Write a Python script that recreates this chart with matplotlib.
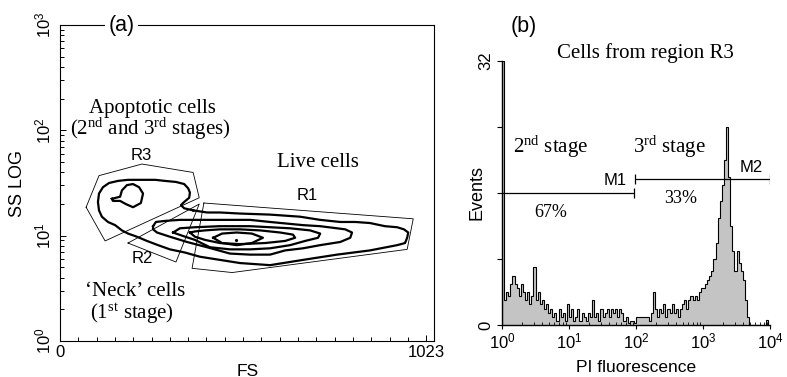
import numpy as np
import matplotlib
matplotlib.use("Agg")
import matplotlib.pyplot as plt
from matplotlib.ticker import FixedLocator, FixedFormatter, LogLocator, NullFormatter

plt.rcParams['font.family'] = ['Liberation Sans', 'DejaVu Sans']
plt.rcParams['mathtext.fontset'] = 'custom'
plt.rcParams['mathtext.rm'] = 'Liberation Serif'
plt.rcParams['mathtext.it'] = 'Liberation Serif:italic'
plt.rcParams['mathtext.bf'] = 'Liberation Serif:bold'
SERIF = ['Liberation Serif', 'DejaVu Serif']

# ---------------- Panel (a): FS vs SS LOG contour plot ----------------
# Contour outlines: FS channel (0-1023) and SS in decades (log10 SS)
outer_fs = [372, 347, 338, 347, 361, 363, 358, 347, 324, 293, 266, 224, 190, 162, 137, 120, 109, 106,
            109, 117, 134, 154, 173, 190, 215, 243, 274, 307, 349, 391, 447, 503, 587, 679, 774, 866,
            942, 964, 970, 973, 961, 942, 908, 866, 825, 783, 727, 671, 587, 503, 447, 411]
outer_ss_dec = [1.24, 1.26, 1.29, 1.32, 1.36, 1.41, 1.45, 1.49, 1.51, 1.52, 1.53, 1.53, 1.53, 1.52, 1.50,
                1.46, 1.40, 1.32, 1.24, 1.18, 1.13, 1.10, 1.05, 1.02, 0.99, 0.95, 0.91, 0.87, 0.84, 0.80,
                0.77, 0.74, 0.72, 0.77, 0.82, 0.86, 0.91, 0.93, 0.98, 1.03, 1.06, 1.08, 1.09, 1.12, 1.13,
                1.13, 1.15, 1.18, 1.20, 1.21, 1.22, 1.22]

blob_fs = [145, 168, 173, 187, 204, 221, 232, 226, 204, 184, 168, 148]
blob_ss_dec = [1.35, 1.37, 1.43, 1.48, 1.49, 1.46, 1.40, 1.31, 1.27, 1.30, 1.33, 1.33]

live2_fs = [260, 268, 293, 335, 391, 475, 531, 587, 679, 727, 774, 797, 816, 811, 783, 727, 679, 629,
            587, 531, 475, 411, 355, 307, 271, 260]
live2_ss_dec = [1.09, 1.13, 1.14, 1.15, 1.15, 1.15, 1.15, 1.13, 1.10, 1.09, 1.07, 1.06, 1.03, 0.98,
                0.94, 0.91, 0.88, 0.86, 0.82, 0.82, 0.83, 0.89, 0.94, 0.99, 1.03, 1.06]

live3_fs = [316, 335, 377, 447, 531, 587, 643, 699, 727, 721, 685, 643, 587, 531, 475, 419, 377, 341]
live3_ss_dec = [1.03, 1.07, 1.08, 1.09, 1.09, 1.08, 1.07, 1.05, 1.02, 0.98, 0.95, 0.91, 0.88, 0.87,
                0.87, 0.89, 0.96, 1.00]

live4_fs = [363, 377, 405, 447, 503, 559, 615, 651, 657, 629, 573, 503, 447, 405, 377]
live4_ss_dec = [1.03, 1.04, 1.05, 1.06, 1.06, 1.05, 1.03, 1.01, 0.98, 0.95, 0.93, 0.92, 0.93, 0.96, 0.99]

live5_fs = [428, 453, 494, 536, 567, 536, 494, 453]
live5_ss_dec = [0.98, 1.02, 1.03, 1.02, 0.98, 0.93, 0.91, 0.93]

peak_fs = [492]
peak_ss_dec = [0.96]

# Gates
r1_fs = [402, 987, 970, 481, 369]
r1_ss_dec = [1.31, 1.16, 0.87, 0.65, 0.69]
r2_fs = [190, 389, 324]
r2_ss_dec = [0.93, 1.30, 0.75]
r3_fs = [73, 109, 229, 372, 389, 126]
r3_ss_dec = [1.27, 1.57, 1.68, 1.60, 1.36, 0.95]

fs_ticks = [0, 1023]
fs_ticklabels = ['0', '1023']

# ---------------- Panel (b): PI fluorescence histogram ----------------
pi_decade1 = [32, 3, 4, 3.5, 5, 6, 5, 4.5, 3.5, 5, 4, 3, 4, 2.5, 3.5, 7,
              3, 4, 2.5, 3, 2, 2.5, 1.5, 2, 1, 1.5, 0.5, 2, 1, 1.5, 0.5, 2.5]
pi_decade2 = [1, 2, 0.5, 1, 2, 0.5, 1.5, 1, 0.5, 1.5, 1, 3, 1, 1.5, 0.5, 2,
              1, 1.5, 2, 1, 2, 1.5, 2, 1, 2, 1.5, 0.5, 1, 0.3, 0.5, 0.5, 0.3]
pi_decade3 = [1, 1, 1, 1, 1, 1, 0.5, 1.5, 4, 2, 1, 2, 1.5, 2.5, 1, 2,
              1.5, 2.5, 1.5, 2, 1, 2, 2.5, 3, 2, 3, 3.5, 3, 3.5, 3, 4, 4.5]
pi_decade4 = [4.5, 5, 5.5, 6, 6.5, 8, 10, 13, 15, 17, 20, 24, 18, 12, 9, 6.5,
              9, 7.5, 6.5, 5.5, 3, 1, 0, 0, 0, 0, 0, 0, 0, 0, 0.6, 0]
pi_counts = pi_decade1 + pi_decade2 + pi_decade3 + pi_decade4

m1_start, m1_end, m1_level = 1.0, 93.0, 16.0
m2_start, m2_end, m2_level = 95.0, 10000.0, 17.7

# ---------------- figure ----------------
W, H = 787, 377
fig = plt.figure(figsize=(W / 100, H / 100), dpi=100)
axA = fig.add_axes([60 / W, 36 / H, 374 / W, 316 / H])
axB = fig.add_axes([502 / W, 52 / H, 268 / W, 264 / H])


def closed(fs, dec):
    x = list(fs) + [fs[0]]
    y = [10 ** v for v in list(dec) + [dec[0]]]
    return x, y


CLW = 1.6
for fs, dec in [(outer_fs, outer_ss_dec), (blob_fs, blob_ss_dec), (live2_fs, live2_ss_dec),
                (live3_fs, live3_ss_dec), (live4_fs, live4_ss_dec), (live5_fs, live5_ss_dec)]:
    x, y = closed(fs, dec)
    axA.plot(x, y, color='black', lw=CLW, solid_joinstyle='round', zorder=3)
axA.plot(peak_fs, [10 ** v for v in peak_ss_dec], 'k.', ms=2.5, zorder=3)

for fs, dec in [(r1_fs, r1_ss_dec), (r2_fs, r2_ss_dec), (r3_fs, r3_ss_dec)]:
    x, y = closed(fs, dec)
    axA.plot(x, y, color='black', lw=0.6, zorder=2)

axA.set_yscale('log')
axA.set_xlim(0, 1045)
axA.set_ylim(1, 1000)
axA.xaxis.set_major_locator(FixedLocator(fs_ticks))
axA.xaxis.set_major_formatter(FixedFormatter(fs_ticklabels))
axA.xaxis.set_minor_locator(FixedLocator([1023 * k / 20 for k in range(1, 20)]))
axA.yaxis.set_major_locator(LogLocator(base=10, numticks=10))
axA.yaxis.set_minor_locator(LogLocator(base=10, subs=np.arange(2, 10), numticks=10))
axA.yaxis.set_minor_formatter(NullFormatter())
axA.tick_params(axis='both', which='both', direction='in', width=0.7, labelsize=12)
axA.tick_params(axis='both', which='major', length=4)
axA.tick_params(axis='both', which='minor', length=3)
axA.tick_params(axis='x', which='major', pad=3)
axA.tick_params(axis='y', which='major', pad=5, labelrotation=90)
for lab in axA.get_yticklabels():
    lab.set_va('center')
for s in axA.spines.values():
    s.set_linewidth(0.8)

axA.text(0.164, 1.0, '(a)', transform=axA.transAxes, ha='center', va='center', fontsize=15.5,
         bbox=dict(facecolor='white', edgecolor='none', pad=2.5), zorder=6)

ta = dict(transform=axA.transAxes, ha='center', va='baseline')
axA.text(0.246, 0.722, 'Apoptotic cells', family=SERIF, fontsize=15, **ta)
axA.text(0.241, 0.652, r'(2$^{\mathrm{nd}}$ and 3$^{\mathrm{rd}}$ stages)', family=SERIF, fontsize=15, **ta)
axA.text(0.217, 0.573, 'R3', fontsize=12, **ta)
axA.text(0.690, 0.551, 'Live cells', family=SERIF, fontsize=15, **ta)
axA.text(0.660, 0.446, 'R1', fontsize=12, **ta)
axA.text(0.219, 0.247, 'R2', fontsize=12, **ta)
axA.text(0.200, 0.141, '\u2018Neck\u2019 cells', family=SERIF, fontsize=15, **ta)
axA.text(0.193, 0.070, r'(1$^{\mathrm{st}}$ stage)', family=SERIF, fontsize=15, **ta)

fig.text(248 / W, 1 - 371 / H, 'FS', ha='center', va='center', fontsize=12.5)
fig.text(18 / W, 1 - 184 / H, 'SS LOG', ha='center', va='center', rotation=90, fontsize=13)

# ---- panel (b)
edges = np.logspace(0, 4, len(pi_counts) + 1)
axB.stairs(pi_counts, edges, fill=True, color='#c4c4c4', zorder=1)
axB.stairs(pi_counts, edges, fill=False, color='black', lw=0.8, zorder=2)

axB.hlines([m1_level], m1_start, m1_end, color='black', lw=0.9, zorder=3)
axB.vlines([m1_end], m1_level - 0.55, m1_level + 0.55, color='black', lw=0.9, zorder=3)
axB.hlines([m2_level], m2_start, m2_end, color='black', lw=0.9, zorder=3)
axB.vlines([m2_start, m2_end], m2_level - 0.55, m2_level + 0.55, color='black', lw=0.9, zorder=3)

axB.set_xscale('log')
axB.set_xlim(1, 1e4)
axB.set_ylim(0, 32)
axB.yaxis.set_major_locator(FixedLocator([0, 8, 16, 24, 32]))
axB.yaxis.set_major_formatter(FixedFormatter(['0', '', '', '', '32']))
axB.xaxis.set_major_locator(LogLocator(base=10, numticks=10))
axB.xaxis.set_minor_locator(LogLocator(base=10, subs=np.arange(2, 10), numticks=10))
axB.xaxis.set_minor_formatter(NullFormatter())
axB.tick_params(axis='y', which='major', direction='out', length=3.5, width=0.8, pad=2.5,
                labelsize=12, labelrotation=90)
for lab in axB.get_yticklabels():
    lab.set_va('center')
axB.tick_params(axis='x', which='major', direction='out', length=3, width=0.8, pad=1.5, labelsize=12)
axB.tick_params(axis='x', which='minor', direction='in', length=2.5, width=0.6)
axB.spines['top'].set_visible(False)
axB.spines['right'].set_visible(False)
axB.spines['left'].set_linewidth(1.0)
axB.spines['bottom'].set_linewidth(1.0)

tb = dict(transform=axB.transAxes, va='baseline')
axB.text(0.080, 1.13, '(b)', transform=axB.transAxes, ha='center', va='center', fontsize=15.5)
axB.text(0.534, 1.011, 'Cells from region R3', family=SERIF, fontsize=15, ha='center', **tb)
axB.text(0.041, 0.652, r'2$^{\mathrm{nd}}$ stage', family=SERIF, fontsize=15, ha='left', **tb)
axB.text(0.489, 0.652, r'3$^{\mathrm{rd}}$ stage', family=SERIF, fontsize=15, ha='left', **tb)
axB.text(0.466, 0.530, 'M1', fontsize=12, ha='right', **tb)
axB.text(0.974, 0.580, 'M2', fontsize=12, ha='right', **tb)
axB.text(0.183, 0.41, '67%', family=SERIF, fontsize=13, ha='center', **tb)
axB.text(0.668, 0.462, '33%', family=SERIF, fontsize=13, ha='center', **tb)

fig.text(636 / W, 1 - 367 / H, 'PI fluorescence', ha='center', va='center', fontsize=12.5)
fig.text(477 / W, 1 - 192 / H, 'Events', ha='center', va='center', rotation=90, fontsize=13)

fig.savefig('out.png', dpi=100)
